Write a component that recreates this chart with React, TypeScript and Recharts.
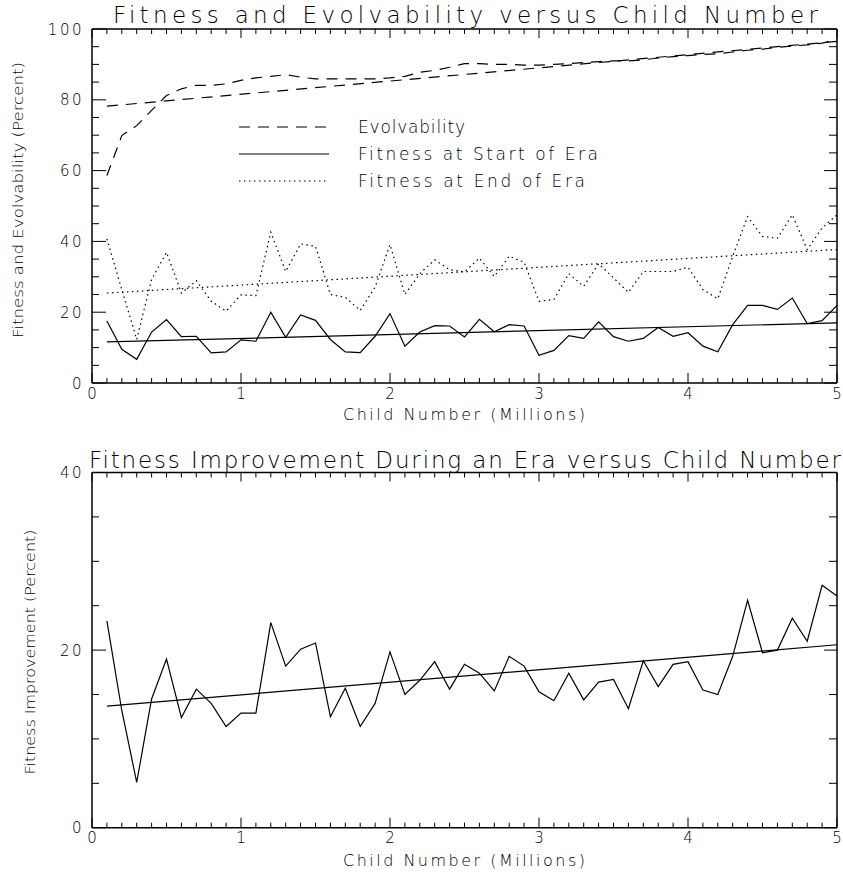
import React from 'react';
import { LineChart, Line, XAxis, YAxis } from 'recharts';

// child number, millions
const CHILD_M = [
  0.1, 0.2, 0.3, 0.4, 0.5, 0.6, 0.7, 0.8, 0.9, 1.0,
  1.1, 1.2, 1.3, 1.4, 1.5, 1.6, 1.7, 1.8, 1.9, 2.0,
  2.1, 2.2, 2.3, 2.4, 2.5, 2.6, 2.7, 2.8, 2.9, 3.0,
  3.1, 3.2, 3.3, 3.4, 3.5, 3.6, 3.7, 3.8, 3.9, 4.0,
  4.1, 4.2, 4.3, 4.4, 4.5, 4.6, 4.7, 4.8, 4.9, 5.0,
];

const EVOLVABILITY = [
  58.6, 69.9, 72.7, 77.0, 81.2, 83.1, 84.1, 84.1, 84.5, 85.5,
  86.2, 86.6, 87.1, 86.4, 85.9, 85.9, 85.9, 85.9, 85.9, 86.2,
  86.6, 87.8, 88.3, 89.2, 90.2, 90.2, 90.0, 90.0, 89.8, 89.8,
  90.0, 90.2, 90.5, 90.8, 91.0, 91.0, 91.3, 91.8, 92.2, 92.5,
  92.8, 93.0, 93.5, 94.0, 94.3, 94.8, 95.2, 95.5, 96.0, 97.0,
];

const FITNESS_START = [
  17.5, 9.5, 6.7, 14.4, 17.9, 13.1, 13.2, 8.5, 8.8, 12.2,
  11.8, 20.0, 12.9, 19.2, 17.7, 12.3, 8.8, 8.6, 13.2, 19.6,
  10.4, 14.4, 16.2, 16.1, 13.0, 18.0, 14.5, 16.5, 16.1, 7.8,
  9.2, 13.4, 12.6, 17.3, 13.1, 11.8, 12.6, 15.7, 13.2, 14.2,
  10.4, 8.8, 16.5, 21.9, 21.9, 20.8, 24.0, 16.8, 17.6, 21.9,
];

const FITNESS_END = [
  40.7, 26.4, 12.3, 29.2, 36.9, 25.4, 28.9, 23.1, 20.3, 24.9,
  24.7, 42.6, 31.5, 39.3, 38.6, 25.0, 24.2, 20.5, 27.1, 39.1,
  25.0, 30.9, 34.8, 32.0, 31.4, 35.3, 30.1, 35.8, 34.1, 23.1,
  23.6, 30.9, 27.3, 33.7, 29.7, 25.6, 31.5, 31.5, 31.5, 32.7,
  26.4, 23.8, 35.8, 47.0, 41.4, 40.9, 47.5, 37.7, 43.8, 47.5,
];

const IMPROVEMENT = [
  23.3, 13.2, 5.1, 14.5, 19.0, 12.4, 15.6, 14.0, 11.4, 12.9,
  12.9, 23.1, 18.2, 20.1, 20.8, 12.5, 15.7, 11.4, 14.0, 19.8,
  15.0, 16.6, 18.7, 15.6, 18.4, 17.4, 15.4, 19.3, 18.2, 15.3,
  14.3, 17.4, 14.4, 16.4, 16.7, 13.4, 18.8, 15.9, 18.4, 18.7,
  15.5, 15.0, 19.3, 25.6, 19.7, 20.0, 23.6, 21.0, 27.3, 26.1,
];

// straight-line fits, start and end values
const TREND_X = [0.1, 5.0];
const EVOL_TREND = [78.2, 96.5];
const START_TREND = [11.6, 17.0];
const END_TREND = [25.4, 37.7];
const IMPROVE_TREND = [13.7, 20.6];

const X_TICKS = Array.from({ length: 51 }, (_, i) => i / 10);
const TOP_Y_TICKS = Array.from({ length: 21 }, (_, i) => i * 5);
const BOT_Y_TICKS = Array.from({ length: 9 }, (_, i) => i * 5);

const FONT = "'DejaVu Sans', Inter, sans-serif";
const INK = '#000';

const rows = CHILD_M.map((x, i) => ({
  x,
  evol: EVOLVABILITY[i],
  start: FITNESS_START[i],
  end: FITNESS_END[i],
  imp: IMPROVEMENT[i],
}));

const trendRows = TREND_X.map((x, i) => ({
  x,
  evol: EVOL_TREND[i],
  start: START_TREND[i],
  end: END_TREND[i],
  imp: IMPROVE_TREND[i],
}));

const isMajor = (v: number, step: number) => Math.abs(v / step - Math.round(v / step)) < 1e-6;

const tickText = { fontFamily: FONT, fontWeight: 200, fontSize: 15, fill: INK };

const makeBottomTick = (labelDy: number) => (props: any) => {
  const { x, y, payload } = props;
  const major = isMajor(payload.value, 1);
  return (
    <g>
      <line x1={x} x2={x} y1={y} y2={y - (major ? 10 : 5)} stroke={INK} />
      {major && (
        <text x={x} y={y + labelDy} textAnchor="middle" {...tickText}>
          {Math.round(payload.value)}
        </text>
      )}
    </g>
  );
};

const TopTick = (props: any) => {
  const { x, y, payload } = props;
  const major = isMajor(payload.value, 1);
  return <line x1={x} x2={x} y1={y} y2={y + (major ? 9 : 5)} stroke={INK} />;
};

const LeftTick = (props: any) => {
  const { x, y, payload } = props;
  const major = isMajor(payload.value, 20);
  return (
    <g>
      <line x1={x} x2={x + (major ? 14 : 7)} y1={y} y2={y} stroke={INK} />
      {major && (
        <text x={x - 8} y={y + 5.5} textAnchor="end" letterSpacing={2.5} {...tickText}>
          {payload.value}
        </text>
      )}
    </g>
  );
};

const RightTick = (props: any) => {
  const { x, y, payload } = props;
  const major = isMajor(payload.value, 20);
  return <line x1={x} x2={x - (major ? 13 : 8)} y1={y} y2={y} stroke={INK} />;
};

const axisLine = { stroke: INK, strokeWidth: 1.5 };

const Frame = ({ yMax, yTicks, labelDy }: { yMax: number; yTicks: number[]; labelDy: number }) => [
  <XAxis
    key="xb"
    xAxisId="b"
    dataKey="x"
    type="number"
    domain={[0, 5]}
    ticks={X_TICKS}
    interval={0}
    height={30}
    tickSize={0}
    tickMargin={0}
    tickLine={false}
    axisLine={axisLine}
    tick={makeBottomTick(labelDy)}
    allowDataOverflow
  />,
  <XAxis
    key="xt"
    xAxisId="t"
    orientation="top"
    dataKey="x"
    type="number"
    domain={[0, 5]}
    ticks={X_TICKS}
    interval={0}
    height={2}
    tickSize={0}
    tickMargin={0}
    tickLine={false}
    axisLine={axisLine}
    tick={TopTick}
    allowDataOverflow
  />,
  <YAxis
    key="yl"
    yAxisId="l"
    type="number"
    domain={[0, yMax]}
    ticks={yTicks}
    interval={0}
    width={80}
    tickSize={0}
    tickMargin={0}
    tickLine={false}
    axisLine={axisLine}
    tick={LeftTick}
    allowDataOverflow
  />,
  <YAxis
    key="yr"
    yAxisId="r"
    orientation="right"
    type="number"
    domain={[0, yMax]}
    ticks={yTicks}
    interval={0}
    width={2}
    tickSize={0}
    tickMargin={0}
    tickLine={false}
    axisLine={axisLine}
    tick={RightTick}
    allowDataOverflow
  />,
];

const lineBase = {
  xAxisId: 'b',
  yAxisId: 'l',
  stroke: INK,
  strokeWidth: 1.2,
  dot: false,
  activeDot: false,
  isAnimationActive: false,
  type: 'linear' as const,
};

const DASH = '11 8';
const DOT = '1.5 3.5';

const TopChart = () => (
  <LineChart width={843} height={430} data={rows} margin={{ top: 27, right: 4, left: 12, bottom: 17 }}>
    {Frame({ yMax: 100, yTicks: TOP_Y_TICKS, labelDy: 16 })}
    <Line {...lineBase} xAxisId="t" yAxisId="r" dataKey="evol" stroke="none" />
    <Line {...lineBase} dataKey="evol" strokeDasharray={DASH} />
    <Line {...lineBase} dataKey="start" />
    <Line {...lineBase} dataKey="end" strokeDasharray={DOT} />
    <Line {...lineBase} data={trendRows} dataKey="evol" strokeDasharray={DASH} />
    <Line {...lineBase} data={trendRows} dataKey="start" />
    <Line {...lineBase} data={trendRows} dataKey="end" strokeDasharray={DOT} />
  </LineChart>
);

const BottomChart = () => (
  <LineChart width={843} height={433} data={rows} margin={{ top: 30.5, right: 4, left: 12, bottom: 15.3 }}>
    {Frame({ yMax: 40, yTicks: BOT_Y_TICKS, labelDy: 15 })}
    <Line {...lineBase} xAxisId="t" yAxisId="r" dataKey="imp" stroke="none" />
    <Line {...lineBase} dataKey="imp" />
    <Line {...lineBase} data={trendRows} dataKey="imp" />
  </LineChart>
);

const txt = { fontFamily: FONT, fontWeight: 200, fill: INK, lengthAdjust: 'spacing' as const };

const LEGEND = [
  { label: 'Evolvability', dash: DASH, len: 107 },
  { label: 'Fitness at Start of Era', dash: undefined, len: 240 },
  { label: 'Fitness at End of Era', dash: DOT, len: 227 },
];

const Overlay = () => (
  <svg width={843} height={873} style={{ position: 'absolute', left: 0, top: 0, pointerEvents: 'none' }}>
    <text x={113} y={23} fontSize={23} textLength={705} {...txt}>
      Fitness and Evolvability versus Child Number
    </text>
    <text x={89} y={468} fontSize={23} textLength={752} {...txt}>
      Fitness Improvement During an Era versus Child Number
    </text>
    <text x={343} y={420} fontSize={16} textLength={242} {...txt}>
      Child Number (Millions)
    </text>
    <text x={343} y={866} fontSize={16} textLength={242} {...txt}>
      Child Number (Millions)
    </text>
    <text
      transform="translate(23,200) rotate(-90)"
      textAnchor="middle"
      fontSize={14}
      textLength={276}
      {...txt}
      lengthAdjust="spacingAndGlyphs"
    >
      Fitness and Evolvability (Percent)
    </text>
    <text
      transform="translate(35,652) rotate(-90)"
      textAnchor="middle"
      fontSize={14}
      textLength={245}
      {...txt}
      lengthAdjust="spacingAndGlyphs"
    >
      Fitness Improvement (Percent)
    </text>
    {LEGEND.map((item, i) => {
      const y = 127 + i * 27;
      return (
        <g key={item.label}>
          <line x1={239} x2={329} y1={y} y2={y} stroke={INK} strokeWidth={1.2} strokeDasharray={item.dash} />
          <text x={358} y={y + 6} fontSize={17} textLength={item.len} {...txt}>
            {item.label}
          </text>
        </g>
      );
    })}
  </svg>
);

export default function App() {
  return (
    <div style={{ position: 'relative', width: 843, height: 873, background: '#fff' }}>
      <style>{'body{margin:0}'}</style>
      <div style={{ position: 'absolute', left: 0, top: 0 }}>
        <TopChart />
      </div>
      <div style={{ position: 'absolute', left: 0, top: 440 }}>
        <BottomChart />
      </div>
      <Overlay />
    </div>
  );
}
